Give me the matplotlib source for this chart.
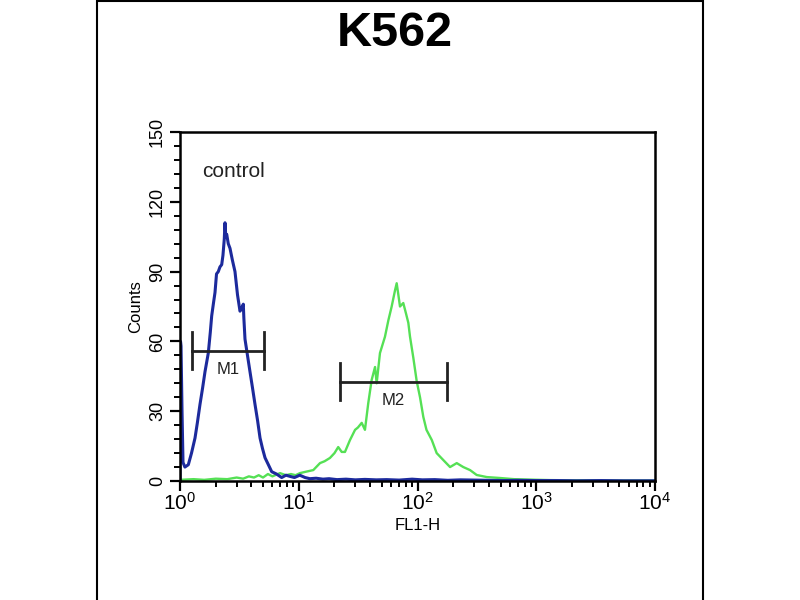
import matplotlib
matplotlib.use("Agg")
import matplotlib.pyplot as plt
from matplotlib.patches import Rectangle

plt.rcParams['font.family'] = ['Liberation Sans', 'DejaVu Sans']
plt.rcParams['mathtext.fontset'] = 'custom'
plt.rcParams['mathtext.rm'] = 'Liberation Sans'

title = "K562"
sample_label = "control"
x_label = "FL1-H"
y_label = "Counts"

# control histogram (blue)
blue_x = [1.00, 1.01, 1.02, 1.04, 1.06, 1.10, 1.175, 1.25, 1.338, 1.40,
          1.474, 1.55, 1.624, 1.731, 1.80, 1.849, 1.92, 1.971, 2.03, 2.101,
          2.17, 2.245, 2.30, 2.36, 2.393, 2.43, 2.474, 2.55, 2.637, 2.76,
          2.904, 3.05, 3.201, 3.30, 3.412, 3.45, 3.526, 3.70, 3.884, 4.08,
          4.28, 4.50, 4.72, 4.95, 5.20, 5.55, 5.92, 6.5, 7.18, 7.8,
          8.44, 9.2, 10.2, 11.3, 12.4, 14, 16, 18, 21, 25,
          30, 36, 45, 55, 70, 90, 110, 140, 180, 230,
          300, 400, 520, 700, 1000, 1500, 2200, 3500, 5500, 10000]
blue_y = [0, 60, 58, 30, 8, 6, 7, 12, 18.5, 25,
          33, 40, 47, 55, 64, 71, 77, 81, 89, 90,
          92, 93, 97, 104, 111, 105, 106, 102, 100, 95,
          90, 80, 73, 74, 76, 70, 61, 54, 47, 40,
          33, 26, 18.5, 14, 10, 7, 4, 3, 1.5, 2.5,
          2, 1.5, 2.5, 1.5, 1, 1.2, 0.8, 1, 0.6, 0.8,
          0.5, 0.7, 0.5, 0.6, 0.4, 0.8, 0.5, 0.6, 0.3, 0.5,
          0.4, 0.3, 0.2, 0.3, 0.2, 0.2, 0.1, 0.2, 0.1, 0.1]

# stained histogram (green)
green_x = [1.0, 1.3, 1.6, 2.0, 2.5, 3.0, 3.4, 3.8, 4.2, 4.6,
           5.0, 5.5, 6.0, 6.95, 7.8, 8.6, 9.4, 10.24, 11.5, 13.26,
           15.1, 16.5, 18.3, 20, 21.5, 23, 24.5, 27, 29.8, 31.5,
           33.9, 36.1, 38.5, 41.1, 43.9, 45.3, 48.3, 53.2, 56.8, 60.6,
           64.7, 66.8, 69, 71.2, 75.9, 80, 83.7, 86.5, 92.2, 98.4,
           105, 112, 119, 132, 145, 165, 188, 214, 243, 277,
           315, 383, 495, 650, 900, 1300, 2000, 3000, 5000, 10000]
green_y = [0.5, 0.8, 0.5, 1, 0.8, 1.5, 1, 2, 1.5, 2.5,
           1.5, 3, 2, 3.4, 2.5, 3, 2.5, 3.4, 4, 4.7,
           7.7, 8.5, 9.9, 12, 14.6, 12.5, 12.5, 17.6, 22, 23,
           25, 22, 33.5, 43.4, 49, 42, 55, 62, 69, 75,
           82, 85, 80, 75, 76.5, 72, 68, 62, 53, 43,
           36, 27.5, 22, 17.6, 12, 9, 6, 7.7, 6, 4.7,
           2.6, 1.7, 1.3, 0.8, 0.6, 0.4, 0.3, 0.3, 0.2, 0.2]

# gates: name, left, right, level
gate_names = ["M1", "M2"]
gate_left = [1.26, 22.2]
gate_right = [5.1, 177]
gate_level = [56, 42.7]

y_ticks = [0, 30, 60, 90, 120, 150]
x_ticks = [1, 10, 100, 1000, 10000]
x_tick_labels = [r'$\mathregular{10^{0}}$', r'$\mathregular{10^{1}}$',
                 r'$\mathregular{10^{2}}$', r'$\mathregular{10^{3}}$',
                 r'$\mathregular{10^{4}}$']

fig = plt.figure(figsize=(8, 6), dpi=100)
ax = fig.add_axes([0.225, 0.1983, 0.59375, 0.5817])

ax.plot(green_x, green_y, color='#55e055', lw=1.7)
ax.plot(blue_x, blue_y, color='#1c2a9c', lw=2.2)

for name, lo, hi, lev in zip(gate_names, gate_left, gate_right, gate_level):
    ax.plot([lo, hi], [lev, lev], color='#222222', lw=2)
    ax.plot([lo, lo], [lev - 8, lev + 8], color='#222222', lw=2)
    ax.plot([hi, hi], [lev - 8, lev + 8], color='#222222', lw=2)
    mid = (lo * hi) ** 0.5
    ax.text(mid, lev - 5, name, ha='center', va='top', fontsize=12, color='#222222')

ax.set_xscale('log')
ax.set_xlim(1, 10000)
ax.set_ylim(0, 150)
ax.set_yticks(y_ticks)
ax.set_yticklabels([str(v) for v in y_ticks], rotation=90, va='center', fontsize=13)
ax.set_yticks(range(0, 151, 6), minor=True)
ax.set_xticks(x_ticks)
ax.set_xticklabels(x_tick_labels, fontsize=15)
ax.tick_params(which='major', direction='out', length=7, width=1.6, pad=3)
ax.tick_params(axis='x', which='major', pad=1)
ax.tick_params(which='minor', direction='out', length=4.5, width=1.4)
for s in ax.spines.values():
    s.set_linewidth(1.8)

ax.set_xlabel(x_label, fontsize=12, labelpad=3)
ax.set_ylabel(y_label, fontsize=12, labelpad=4)
ax.text(1.55, 133, sample_label, fontsize=15, ha='left', va='center', color='#222222')

fig.text(0.494, 0.945, title, fontsize=35, fontweight='bold', ha='center', va='center')
fig.add_artist(Rectangle((0.121, -0.01), 0.758, 1.008, transform=fig.transFigure,
                         fill=False, lw=1.5, edgecolor='black'))

fig.savefig('out.png', dpi=100)
